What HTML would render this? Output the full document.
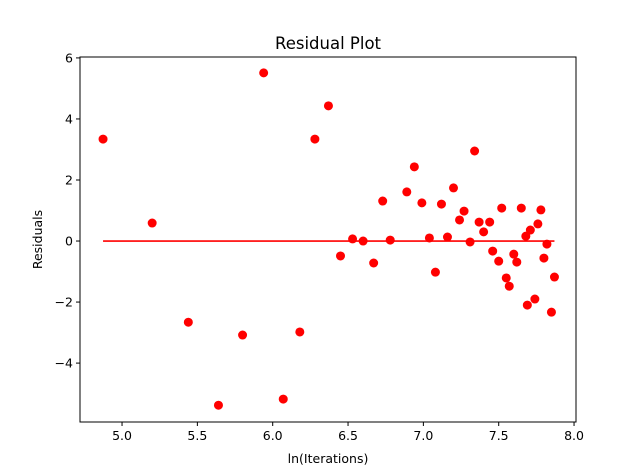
<!DOCTYPE html>
<html><head><meta charset="utf-8"><style>
body{margin:0;background:#fff;}
svg{display:block;font-family:"DejaVu Sans","Liberation Sans",sans-serif;}
</style></head><body>
<svg id="chart" width="640" height="474"></svg>
<script>
const xValues=[4.874,5.20,5.44,5.64,5.80,5.94,6.07,6.18,6.28,6.37,6.45,6.53,6.60,6.67,6.73,6.78,6.89,6.94,6.99,7.04,7.08,7.12,7.16,7.20,7.24,7.27,7.31,7.34,7.37,7.40,7.44,7.46,7.50,7.52,7.55,7.57,7.60,7.62,7.65,7.68,7.69,7.71,7.74,7.76,7.78,7.80,7.82,7.85,7.87];
const residuals=[3.34,0.59,-2.66,-5.38,-3.08,5.51,-5.18,-2.98,3.34,4.43,-0.49,0.07,0.0,-0.72,1.31,0.03,1.61,2.43,1.25,0.10,-1.02,1.21,0.13,1.74,0.69,0.98,-0.03,2.95,0.62,0.30,0.62,-0.33,-0.66,1.08,-1.21,-1.48,-0.43,-0.69,1.08,0.16,-2.10,0.36,-1.90,0.56,1.02,-0.56,-0.10,-2.33,-1.18];
const xTicks=["5.0","5.5","6.0","6.5","7.0","7.5","8.0"];
const yTicks=["-4","-2","0","2","4","6"];
const L=80,T=57,R=576,B=422,xMin=4.721,xMax=8.013,yMin=-5.93,yMax=6.03;
const sx=v=>L+(v-xMin)/(xMax-xMin)*(R-L);
const sy=v=>B-(v-yMin)/(yMax-yMin)*(B-T);
const svg=document.getElementById('chart');const NS='http://www.w3.org/2000/svg';
function mk(t,a,p){const e=document.createElementNS(NS,t);for(const k in a)e.setAttribute(k,a[k]);(p||svg).appendChild(e);return e;}
const fl=mk('line',{x1:sx(Math.min(...xValues)),x2:sx(Math.max(...xValues)),y1:sy(0),y2:sy(0),stroke:'#ff0000','stroke-width':1.6});


xValues.forEach((x,i)=>{const c=mk('circle',{cx:sx(x),cy:sy(residuals[i]),r:4.5,fill:'#ff0000'});

});
const fr=mk('rect',{x:L,y:T,width:R-L,height:B-T,fill:'none',stroke:'#000','stroke-width':1});


xTicks.forEach(t=>{const x=sx(+t);mk('line',{x1:x,x2:x,y1:B,y2:B+4,stroke:'#000'});
const e=mk('text',{x:x,y:B+18,'text-anchor':'middle','font-size':12.5});e.textContent=t;

});
yTicks.forEach(t=>{const y=sy(+t);mk('line',{x1:L-4,x2:L,y1:y,y2:y,stroke:'#000'});
const e=mk('text',{x:L-7,y:y+4.5,'text-anchor':'end','font-size':12.5});e.textContent=t.replace('-','\u2212');

});
const ti=mk('text',{x:(L+R)/2,y:T-8,'text-anchor':'middle','font-size':16.5});ti.textContent='Residual Plot';


const xl=mk('text',{x:(L+R)/2,y:463,'text-anchor':'middle','font-size':12.5});xl.textContent='ln(Iterations)';


const yl=mk('text',{x:0,y:0,'text-anchor':'middle','font-size':12.5,transform:`translate(42,${(T+B)/2}) rotate(-90)`});yl.textContent='Residuals';


</script>
</body></html>
